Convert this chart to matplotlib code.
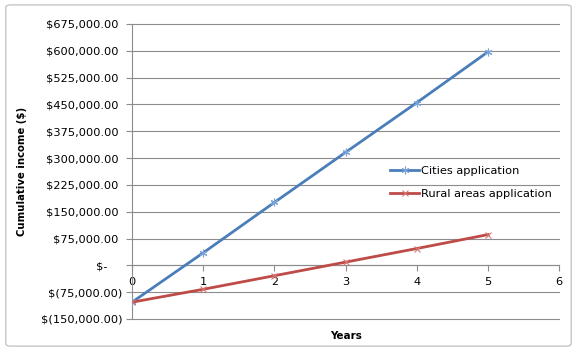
import matplotlib
matplotlib.use("Agg")
import matplotlib.pyplot as plt
from matplotlib.patches import FancyBboxPatch
from matplotlib.ticker import FuncFormatter, MultipleLocator

# cumulative income per year for each application ($)
years = [0, 1, 2, 3, 4, 5]
cities = [-103000, 35000, 176000, 316000, 455000, 597000]
rural = [-103000, -67000, -29000, 9000, 47000, 86000]

blue = "#4A7EBB"
red = "#BE4B48"
grid = "#8C8C8C"
fs = 8.2


def accounting(v, pos):
    # excel style accounting format
    if abs(v) < 1e-6:
        return "$-    "
    if v < 0:
        return "$({:,.2f})".format(-v)
    return "${:,.2f} ".format(v)


fig = plt.figure(figsize=(5.77, 3.51), dpi=100)
ax = fig.add_axes([0.2288, 0.0912, 0.9693 - 0.2288, 0.932 - 0.0912])

# rounded border around the whole chart
fig.patches.append(FancyBboxPatch((0.01, 0.014), 0.98, 0.972, boxstyle="round,pad=0,rounding_size=0.008",
                                  transform=fig.transFigure, fill=False, edgecolor="#BFBFBF", linewidth=0.9))

ax.plot(years, cities, color=blue, linewidth=2.0, marker=(6, 2, 0), markersize=5.5,
        markeredgecolor="#7AA3D8", markeredgewidth=0.8, label="Cities application", zorder=3)
ax.plot(years, rural, color=red, linewidth=2.0, marker="x", markersize=5,
        markeredgecolor="#D87774", markeredgewidth=0.8, label="Rural areas application", zorder=3)

ax.set_xlim(0, 6)
ax.set_ylim(-150000, 675000)
ax.yaxis.set_major_locator(MultipleLocator(75000))
ax.yaxis.set_major_formatter(FuncFormatter(accounting))
ax.set_xticks(range(0, 7))

ax.yaxis.grid(True, color=grid, linewidth=0.8)
ax.set_axisbelow(True)
for gl in ax.get_ygridlines():
    gl.set_clip_on(False)

for side in ["top", "right"]:
    ax.spines[side].set_visible(False)
ax.spines["bottom"].set_position(("data", 0))
ax.spines["bottom"].set_color(grid)
ax.spines["left"].set_color(grid)
ax.spines["bottom"].set_linewidth(0.8)
ax.spines["left"].set_linewidth(0.8)

ax.tick_params(axis="y", direction="out", length=4, width=0.8, color=grid, labelsize=fs, pad=3)
ax.tick_params(axis="x", direction="out", length=4, width=0.8, color=grid, labelsize=fs, pad=4.5)

ax.set_ylabel("Cumulative income ($)", fontsize=7.3, fontweight="bold")
ax.yaxis.set_label_coords(-0.245, 0.5)
ax.set_xlabel("Years", fontsize=7.5, fontweight="bold")
ax.xaxis.set_label_coords(0.5, -0.04)

ax.legend(loc="center left", bbox_to_anchor=(0.59, 0.4626), frameon=False, fontsize=fs,
          borderpad=0, handlelength=2.6, handletextpad=0.1, labelspacing=1.15)

plt.savefig("out.png", dpi=100)
